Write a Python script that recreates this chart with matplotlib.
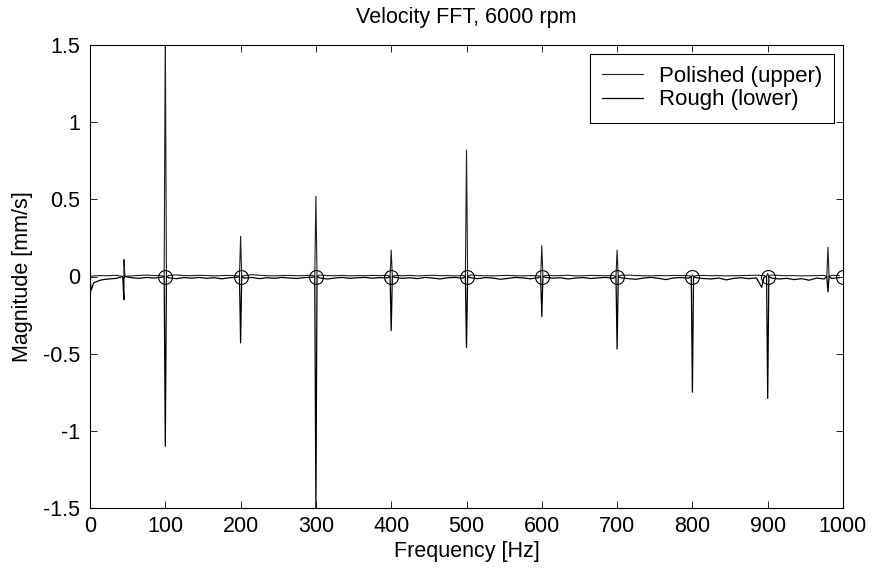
import numpy as np
import matplotlib
matplotlib.use("Agg")
import matplotlib.pyplot as plt

plt.rcParams['font.family'] = ['Liberation Sans', 'DejaVu Sans']

# ---- data ----
noise_freq = [5 + 10 * i for i in range(100)]
polished_noise = [0.004, 0.006, 0.005, 0.008, 0.006, 0.004, 0.007, 0.009, 0.006, 0.005,
                  0.007, 0.010, 0.006, 0.005, 0.008, 0.006, 0.004, 0.006, 0.007, 0.005,
                  0.006, 0.012, 0.008, 0.005, 0.004, 0.006, 0.007, 0.005, 0.006, 0.008,
                  0.009, 0.006, 0.005, 0.007, 0.004, 0.006, 0.005, 0.007, 0.006, 0.008,
                  0.006, 0.005, 0.007, 0.004, 0.006, 0.008, 0.005, 0.006, 0.004, 0.007,
                  0.010, 0.006, 0.005, 0.004, 0.006, 0.007, 0.005, 0.004, 0.006, 0.005,
                  0.007, 0.005, 0.006, 0.008, 0.004, 0.005, 0.007, 0.006, 0.005, 0.006,
                  0.008, 0.009, 0.006, 0.005, 0.004, 0.006, 0.005, 0.007, 0.006, 0.005,
                  0.006, 0.007, 0.005, 0.006, 0.004, 0.005, 0.006, 0.007, 0.008, 0.006,
                  0.010, 0.007, 0.005, 0.006, 0.004, 0.005, 0.006, 0.007, 0.008, 0.006]
rough_noise = [-0.040, -0.022, -0.016, -0.012, -0.010, -0.008, -0.012, -0.006, -0.010, -0.005,
               -0.009, -0.014, -0.007, -0.011, -0.006, -0.012, -0.008, -0.015, -0.008, -0.005,
               -0.010, -0.006, -0.014, -0.008, -0.012, -0.006, -0.010, -0.013, -0.007, -0.005,
               -0.009, -0.016, -0.010, -0.006, -0.012, -0.008, -0.006, -0.011, -0.007, -0.009,
               -0.006, -0.012, -0.008, -0.014, -0.006, -0.010, -0.016, -0.008, -0.006, -0.011,
               -0.008, -0.014, -0.007, -0.010, -0.018, -0.012, -0.006, -0.009, -0.015, -0.008,
               -0.006, -0.011, -0.008, -0.016, -0.010, -0.007, -0.013, -0.009, -0.006, -0.012,
               -0.008, -0.014, -0.018, -0.010, -0.006, -0.012, -0.020, -0.009, -0.007, -0.011,
               -0.008, -0.013, -0.016, -0.010, -0.022, -0.012, -0.008, -0.014, -0.009, -0.006,
               -0.010, -0.016, -0.012, -0.020, -0.014, -0.024, -0.010, -0.016, -0.012, -0.008]

spike_freq = [45, 100, 200, 300, 400, 500, 600, 700, 800, 900, 980]
polished_peaks = [0.11, 1.62, 0.26, 0.52, 0.17, 0.82, 0.20, 0.17, 0.01, 0.02, 0.19]
rough_peaks = [-0.15, -1.10, -0.43, -1.52, -0.35, -0.46, -0.26, -0.47, -0.75, -0.79, -0.10]

rough_extra_freq = [0.0, 1.5, 892.0]
rough_extra_vals = [-0.010, -0.090, -0.070]

harmonic_freq = [100, 200, 300, 400, 500, 600, 700, 800, 900, 1000]
harmonic_vals = [0, 0, 0, 0, 0, 0, 0, 0, 0, 0]


def build(noise_f, noise_v, sp_f, sp_v, extra_f=(), extra_v=()):
    pts = list(zip(noise_f, noise_v))
    for f, v in zip(sp_f, sp_v):
        pts += [(f - 1.5, 0.0), (f, v), (f + 1.5, 0.0)]
    pts += list(zip(extra_f, extra_v))
    pts.sort()
    x, y = zip(*pts)
    return np.array(x), np.array(y)


px, py = build(noise_freq, polished_noise, spike_freq, polished_peaks, [0.0], [0.0])
rx, ry = build(noise_freq, rough_noise, spike_freq, rough_peaks, rough_extra_freq, rough_extra_vals)

FS = 15.5

fig = plt.figure(figsize=(8.73, 5.73), dpi=100)
ax = fig.add_axes([90 / 873, 1 - 508 / 573, (843 - 90) / 873, (508 - 45) / 573])

ax.plot(px, py, color='#202020', lw=0.8, label='Polished (upper)')
ax.plot(rx, ry, color='black', lw=0.9, label='Rough (lower)')
ax.plot(harmonic_freq, harmonic_vals, 'o', mfc='none', mec='black', ms=10, mew=0.8)

ax.set_xlim(0, 1000)
ax.set_ylim(-1.5, 1.5)
ax.set_xticks(np.arange(0, 1001, 100))
ax.set_yticks([-1.5, -1, -0.5, 0, 0.5, 1, 1.5])
ax.set_yticklabels(['-1.5', '-1', '-0.5', '0', '0.5', '1', '1.5'])
ax.tick_params(direction='in', length=5, width=0.6, top=True, right=True, labelsize=FS)
ax.tick_params(axis='x', pad=6)
ax.tick_params(axis='y', pad=7)
for s in ax.spines.values():
    s.set_linewidth(0.8)

ax.set_title('Velocity FFT, 6000 rpm', fontsize=FS, pad=16)
ax.set_xlabel('Frequency [Hz]', fontsize=FS, labelpad=3)
ax.set_ylabel('Magnitude [mm/s]', fontsize=FS, labelpad=7)

leg = ax.legend(loc='upper right', fontsize=16, frameon=True, fancybox=False,
                edgecolor='black', framealpha=1, handlelength=1.85, borderpad=0.55,
                labelspacing=0.1, handletextpad=0.7, borderaxespad=0.4)
leg.get_frame().set_linewidth(0.8)

fig.savefig('out.png', dpi=100)
